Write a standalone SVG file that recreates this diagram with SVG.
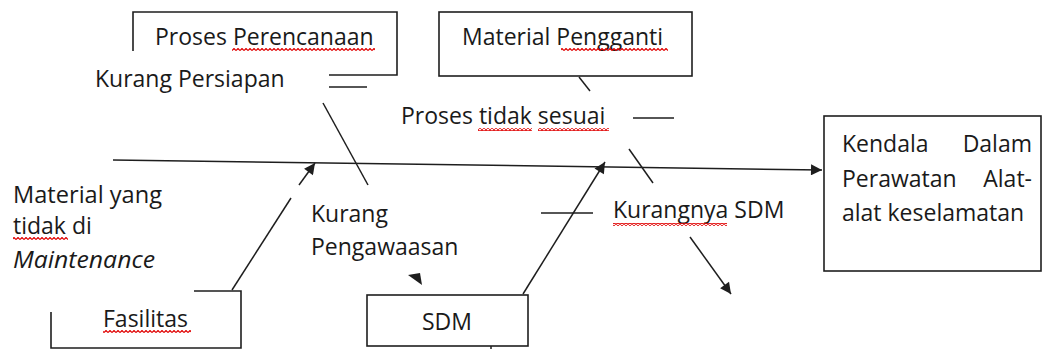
<svg xmlns="http://www.w3.org/2000/svg" width="1044" height="349" viewBox="0 0 1044 349">
  <style>
    text { font-family: "Open Sans", "Noto Sans", "Liberation Sans", sans-serif; font-size: 23px; fill: #1a1a1a; }
    .box { fill: none; stroke: #1e1e1e; stroke-width: 1.6; }
    .ln { fill: none; stroke: #1e1e1e; stroke-width: 1.5; }
    .arr { fill: none; stroke: #1e1e1e; stroke-width: 1.5; marker-end: url(#ah); }
    .sq { fill: url(#wave); }
  </style>
  <defs>
    <marker id="ah" viewBox="0 0 10 10" refX="10" refY="5" markerWidth="13" markerHeight="11" markerUnits="userSpaceOnUse" orient="auto">
      <path d="M0,0 L10,5 L0,10 z" fill="#1e1e1e"/>
    </marker>
    <pattern id="wave" width="4" height="3" patternUnits="userSpaceOnUse">
      <path d="M0,2.5 L2,0.5 L4,2.5" fill="none" stroke="#e00000" stroke-width="1.2"/>
    </pattern>
  </defs>
  <rect width="1044" height="349" fill="#ffffff"/>

  <g id="connectors">
    <line class="arr" x1="113" y1="160" x2="822" y2="170"/>
    <line class="ln" x1="323" y1="103" x2="368" y2="185"/>
    <line class="ln" x1="629" y1="149" x2="653" y2="183"/>
    <line class="ln" x1="579" y1="77" x2="590" y2="91"/>
    <line class="ln" x1="232" y1="290" x2="291" y2="198"/>
    <line class="arr" x1="299" y1="185" x2="315" y2="163"/>
    <line class="arr" x1="523" y1="294" x2="605" y2="162"/>
    <line class="ln" x1="541" y1="213" x2="593" y2="213"/>
    <line class="arr" x1="690" y1="237" x2="731" y2="294"/>
    <line class="ln" x1="633" y1="118" x2="674" y2="118"/>
    <line class="ln" x1="329" y1="87" x2="367" y2="87"/>
    <polygon points="408,275 420,273 422,285" fill="#1e1e1e"/>
    <line class="ln" x1="491" y1="346" x2="491" y2="349"/>
  </g>

  <g id="proses-perencanaan">
    <path class="box" d="M133,51 L133,12 L397,12 L397,75 L329,75"/>
    <text x="155" y="45">Proses Perencanaan</text>
    <rect class="sq" x="232" y="48" width="143" height="3"/>
  </g>

  <g id="kurang-persiapan">
    <text x="95" y="87">Kurang Persiapan</text>
  </g>

  <g id="material-pengganti">
    <rect class="box" x="439" y="12" width="253" height="64"/>
    <text x="462" y="45">Material Pengganti</text>
    <rect class="sq" x="561" y="48" width="107" height="3"/>
  </g>

  <g id="proses-tidak-sesuai">
    <text x="401" y="124">Proses tidak sesuai</text>
    <rect class="sq" x="478" y="128" width="54" height="3"/>
    <rect class="sq" x="538" y="128" width="71" height="3"/>
  </g>

  <g id="material-maintenance">
    <text x="13" y="203" textLength="149" lengthAdjust="spacingAndGlyphs">Material yang</text>
    <text x="13" y="234">tidak di</text>
    <text x="13" y="268" font-style="italic" textLength="142" lengthAdjust="spacingAndGlyphs">Maintenance</text>
    <rect class="sq" x="13" y="237" width="55" height="3"/>
  </g>

  <g id="kurang-pengawasan">
    <text x="311" y="222">Kurang</text>
    <text x="311" y="255">Pengawaasan</text>
  </g>

  <g id="kurangnya-sdm">
    <text x="613" y="218">Kurangnya SDM</text>
    <rect class="sq" x="613" y="223" width="114" height="3"/>
  </g>

  <g id="fasilitas">
    <path class="box" d="M194,291 L241,291 L241,348 L51,348 L51,312"/>
    <text x="103" y="327">Fasilitas</text>
    <rect class="sq" x="103" y="330" width="88" height="3"/>
  </g>

  <g id="sdm">
    <rect class="box" x="367" y="295" width="161" height="51"/>
    <text x="447" y="330" text-anchor="middle">SDM</text>
  </g>

  <g id="kendala">
    <rect class="box" x="824" y="116" width="217" height="155"/>
    <text x="842" y="152">Kendala</text>
    <text x="1032" y="152" text-anchor="end">Dalam</text>
    <text x="842" y="187">Perawatan</text>
    <text x="1032" y="187" text-anchor="end">Alat-</text>
    <text x="842" y="221">alat keselamatan</text>
  </g>
</svg>
